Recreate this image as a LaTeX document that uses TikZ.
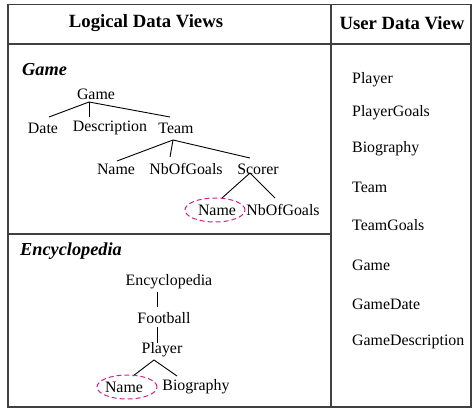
\documentclass[tikz,border=0pt]{standalone}
\usepackage{fontspec}
\setmainfont{Liberation Serif}
\usetikzlibrary{shapes.geometric}
\begin{document}
\begin{tikzpicture}[x=1pt,y=-1pt,
  frame/.style={line width=1.3pt,draw=black!75},
  lbl/.style={inner sep=0pt,font=\fontsize{15.9}{18}\selectfont},
  head/.style={inner sep=0pt,font=\fontsize{18.7}{21}\selectfont\bfseries},
  sect/.style={inner sep=0pt,anchor=west,font=\fontsize{18.3}{21}\selectfont\bfseries\itshape},
  item/.style={lbl,anchor=west},
  link/.style={line width=0.9pt,black},
  ringmark/.style={draw=magenta!85!black,dash pattern=on 5pt off 3pt,line width=1pt,
    ellipse,minimum width=60pt,minimum height=24pt,inner sep=0pt}
]
\useasboundingbox (0,0) rectangle (472,412);

% table frame
\draw[frame] (8,4.7) rectangle (471,407);
\draw[frame] (8,44) -- (471,44);
\draw[frame] (331,4.7) -- (331,407);
\draw[frame] (8,234) -- (331,234);

% headers
\node[head] (h1) at (146,23) {Logical Data Views};
\node[head] (h2) at (402,23) {User Data View};

% Game tree
\node[sect] (gt) at (22,70) {Game};
\node[lbl] (groot) at (96,94) {Game};
\node[lbl] (date) at (43,128) {Date};
\node[lbl] (desc) at (110,128) {Description};
\node[lbl] (team) at (176,128) {Team};
\node[lbl] (name1) at (116,169) {Name};
\node[lbl] (nbg1) at (186,169) {NbOfGoals};
\node[lbl] (scorer) at (258,169) {Scorer};
\node[lbl] (name2) at (217,210) {Name};
\node[lbl] (nbg2) at (283,210) {NbOfGoals};

\coordinate (g0) at (89,102);
\coordinate (gdate) at (49,117);
\coordinate (gdesc) at (89,117);
\coordinate (gteam) at (170,117);
\draw[link] (gdate) -- (g0) -- (gteam);
\draw[link] (g0) -- (gdesc);

\coordinate (t0) at (173,140);
\coordinate (tname) at (117,161);
\coordinate (tnbg) at (170,157);
\coordinate (tscorer) at (250,158);
\draw[link] (tname) -- (t0) -- (tscorer);
\draw[link] (t0) -- (tnbg);

\coordinate (s0) at (250,173);
\coordinate (sname) at (222,198);
\coordinate (snbg) at (275,198);
\draw[link] (sname) -- (s0) -- (snbg);

\node[ringmark] (ring1) at (215,210) {};

% Encyclopedia tree
\node[sect] (et) at (20,251) {Encyclopedia};
\node[lbl] (enc) at (169,282) {Encyclopedia};
\node[lbl] (foot) at (164,318) {Football};
\node[lbl] (player) at (162,350) {Player};
\node[lbl] (name3) at (124,387) {Name};
\node[lbl] (bio) at (196,387) {Biography};

\coordinate (e0) at (157,292);
\coordinate (e1) at (157,307);
\coordinate (f0) at (157,327);
\coordinate (f1) at (157,343);
\coordinate (p0) at (154,360);
\coordinate (pname) at (133,376);
\coordinate (pbio) at (177,376);
\draw[link] (e0) -- (e1);
\draw[link] (f0) -- (f1);
\draw[link] (pname) -- (p0) -- (pbio);

\node[ringmark] (ring2) at (127,387) {};

% user data view
\node[item] (u1) at (352,80) {Player};
\node[item] (u2) at (352,113) {PlayerGoals};
\node[item] (u3) at (352,149) {Biography};
\node[item] (u4) at (352,187) {Team};
\node[item] (u5) at (352,225) {TeamGoals};
\node[item] (u6) at (352,265) {Game};
\node[item] (u7) at (352,304) {GameDate};
\node[item] (u8) at (352,342) {GameDescription};
\end{tikzpicture}
\end{document}
